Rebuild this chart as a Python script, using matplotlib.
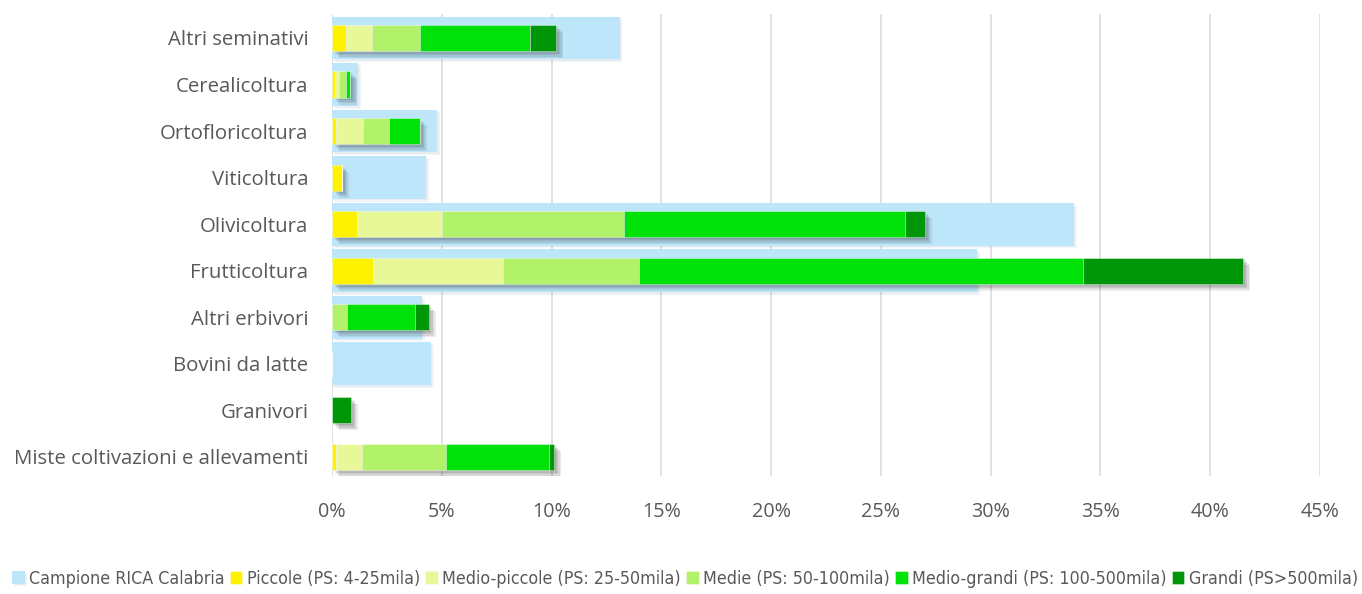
import matplotlib
matplotlib.use('Agg')
import matplotlib.pyplot as plt
import matplotlib.patheffects as pe
import numpy as np

# categorie (dall'alto in basso)
categorie = ['Altri seminativi', 'Cerealicoltura', 'Ortofloricoltura', 'Viticoltura',
             'Olivicoltura', 'Frutticoltura', 'Altri erbivori', 'Bovini da latte',
             'Granivori', 'Miste coltivazioni e allevamenti']

# valori in %
campione = [13.1, 1.2, 4.8, 4.3, 33.8, 29.4, 4.1, 4.5, 0.0, 0.0]
piccole = [0.65, 0.15, 0.18, 0.45, 1.15, 1.85, 0.0, 0.0, 0.0, 0.17]
medio_piccole = [1.15, 0.18, 1.22, 0.0, 3.85, 5.95, 0.0, 0.0, 0.0, 1.2]
medie = [2.2, 0.33, 1.2, 0.0, 8.3, 6.2, 0.67, 0.0, 0.0, 3.8]
medio_grandi = [5.0, 0.18, 1.4, 0.0, 12.8, 20.2, 3.13, 0.0, 0.0, 4.7]
grandi = [1.2, 0.0, 0.0, 0.0, 0.9, 7.3, 0.6, 0.0, 0.86, 0.25]

serie = [piccole, medio_piccole, medie, medio_grandi, grandi]
etichette = ['Piccole (PS: 4-25mila)', 'Medio-piccole (PS: 25-50mila)',
             'Medie (PS: 50-100mila)', 'Medio-grandi (PS: 100-500mila)',
             'Grandi (PS>500mila)']
colori = ['#FFF200', '#E8F899', '#B2F26A', '#00E10A', '#00960A']
col_campione = '#BDE6FA'
grigio = '#595959'

plt.rcParams['font.family'] = ['Open Sans', 'DejaVu Sans']

fig = plt.figure(figsize=(13.62, 5.94), dpi=100)
ax = fig.add_axes([332/1362, 1-476/594, (1320-332)/1362, (476-14)/594])

y = np.arange(len(categorie))
ombra_blu = [pe.withSimplePatchShadow(offset=(d, -d), shadow_rgbFace='#4a7f9a', alpha=0.07)
             for d in (1, 2)]
ax.barh(y, campione, height=0.92, color=col_campione, label='Campione RICA Calabria',
        zorder=2, path_effects=ombra_blu + [pe.Normal()])

left = np.zeros(len(categorie))
for vals, lab, col in zip(serie, etichette, colori):
    v = np.array(vals)
    ax.barh(y, v, left=left, height=0.56, color=col, label=lab, zorder=3,
            edgecolor=(1, 1, 1, 0.45), linewidth=0.6)
    left = left + v

# ombra sfumata sotto le barre impilate
ombra = [pe.withSimplePatchShadow(offset=(d, -d), shadow_rgbFace='#222222', alpha=0.09)
         for d in (1, 2, 3, 4, 5)]
ax.barh(y, left, height=0.56, color='none', zorder=2.5, path_effects=ombra)

ax.set_xlim(0, 45)
ax.set_ylim(9.41, -0.515)
ax.set_xticks(np.arange(0, 46, 5))
ax.set_xticklabels([f'{t}%' for t in range(0, 46, 5)])
ax.set_yticks(y)
ax.set_yticklabels(categorie)
ax.tick_params(axis='x', length=0, pad=19, labelsize=14.2, labelcolor=grigio)
ax.tick_params(axis='y', length=0, pad=17, labelsize=14.7, labelcolor=grigio)
ax.grid(axis='x', color='#dcdcdc', linewidth=1.2, zorder=0)
ax.set_axisbelow(True)
for s in ax.spines.values():
    s.set_visible(False)

leg = ax.legend(loc='center left', bbox_to_anchor=(-327/988, -0.222), ncol=6,
                frameon=False, handlelength=0.7, handleheight=0.7, handletextpad=0.25,
                columnspacing=0.3, borderaxespad=0,
                prop={'family': 'DejaVu Sans', 'stretch': 'condensed', 'size': 12.8})
for t in leg.get_texts():
    t.set_color(grigio)

fig.savefig('out.png', dpi=100)
